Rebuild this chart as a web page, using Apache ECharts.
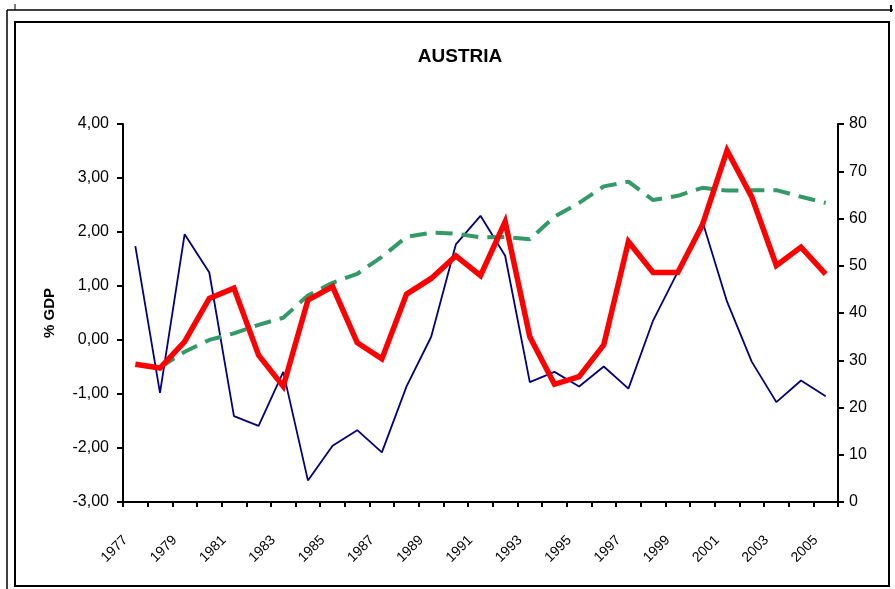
<!DOCTYPE html>
<html>
<head>
<meta charset="utf-8">
<script src="https://cdn.jsdelivr.net/npm/echarts@6/dist/echarts.min.js"></script>
<style>
html,body{margin:0;padding:0;background:#fff;}
#c{width:895px;height:589px;}
</style>
</head>
<body>
<div id="c"></div>
<script>
var years = ['1977','1978','1979','1980','1981','1982','1983','1984','1985','1986','1987','1988','1989','1990','1991','1992','1993','1994','1995','1996','1997','1998','1999','2000','2001','2002','2003','2004','2005'];
var blueSeries = [1.74,-0.98,1.96,1.25,-1.41,-1.59,-0.59,-2.60,-1.96,-1.67,-2.08,-0.86,0.06,1.77,2.30,1.56,-0.78,-0.59,-0.86,-0.49,-0.90,0.36,1.26,2.20,0.71,-0.40,-1.15,-0.75,-1.04];
var redSeries = [-0.45,-0.52,-0.03,0.77,0.96,-0.28,-0.86,0.74,0.99,-0.05,-0.35,0.85,1.14,1.56,1.19,2.19,0.06,-0.82,-0.68,-0.09,1.82,1.25,1.25,2.13,3.51,2.65,1.38,1.72,1.22];
var greenSeries = [null,28.5,31.8,34.3,35.7,37.5,39.0,43.7,46.4,48.3,51.9,56.1,57.0,56.8,56.0,56.1,55.6,60.4,63.3,66.8,67.8,63.9,64.8,66.5,65.9,66.0,66.0,64.6,63.3];
var leftTicks = {min:-3, max:4, step:1};
var rightTicks = {min:0, max:80, step:10};

var chart = echarts.init(document.getElementById('c'), null, {renderer:'canvas'});
var fontFam = '"Liberation Sans", Arial, sans-serif';
chart.setOption({
  animation:false,
  backgroundColor:'#fff',
  title:{text:'AUSTRIA', left:455, top:42, textAlign:'center',
    textStyle:{fontFamily:fontFam, fontSize:19, fontWeight:'bold', color:'#000'}},
  grid:{left:123, right:57, top:124, bottom:87},
  xAxis:{type:'category', data:years, boundaryGap:true,
    axisLine:{onZero:false, lineStyle:{color:'#000', width:2}},
    axisTick:{show:true, interval:0, length:5, lineStyle:{color:'#000', width:2}},
    axisLabel:{interval:1, rotate:45, color:'#000', fontFamily:fontFam, fontSize:14, margin:26, padding:[0,14,0,0]},
    splitLine:{show:false}},
  yAxis:[
    {type:'value', min:leftTicks.min, max:leftTicks.max, interval:leftTicks.step,
     name:'% GDP', nameLocation:'middle', nameGap:66, nameRotate:90,
     nameTextStyle:{fontFamily:fontFam, fontSize:15, fontWeight:'bold', color:'#000'},
     axisLine:{show:true, lineStyle:{color:'#000', width:2}},
     axisTick:{show:true, length:6, lineStyle:{color:'#000', width:2}},
     axisLabel:{color:'#000', fontFamily:fontFam, fontSize:16, margin:14,
       formatter:function(v){return v.toFixed(2).replace('.',',');}},
     splitLine:{show:false}},
    {type:'value', min:rightTicks.min, max:rightTicks.max, interval:rightTicks.step, position:'right',
     axisLine:{show:true, lineStyle:{color:'#000', width:2}},
     axisTick:{show:true, length:6, lineStyle:{color:'#000', width:2}},
     axisLabel:{color:'#000', fontFamily:fontFam, fontSize:16, margin:11},
     splitLine:{show:false}}
  ],
  series:[
    {type:'line', data:blueSeries, yAxisIndex:0, symbol:'none', z:2,
     lineStyle:{color:'#000080', width:1.8}},
    {type:'line', data:greenSeries, yAxisIndex:1, symbol:'none', z:3,
     lineStyle:{color:'#339966', width:4, type:[17,9]}},
    {type:'line', data:redSeries, yAxisIndex:0, symbol:'none', z:4,
     lineStyle:{color:'#FF0000', width:5.5, join:'miter'}}
  ],
  graphic:[
    {type:'rect', shape:{x:15, y:22, width:874, height:564}, style:{fill:null, stroke:'#000', lineWidth:2}, z:-1},
    {type:'line', shape:{x1:7, y1:10, x2:893, y2:10}, style:{stroke:'#000', lineWidth:1.5}},
    {type:'line', shape:{x1:7, y1:10, x2:7, y2:589}, style:{stroke:'#000', lineWidth:1.5}},
    {type:'line', shape:{x1:891, y1:5, x2:891, y2:12}, style:{stroke:'#000', lineWidth:2}},
    {type:'line', shape:{x1:15, y1:4, x2:15, y2:10}, style:{stroke:'#000', lineWidth:1}}
  ]
});
</script>
</body>
</html>
